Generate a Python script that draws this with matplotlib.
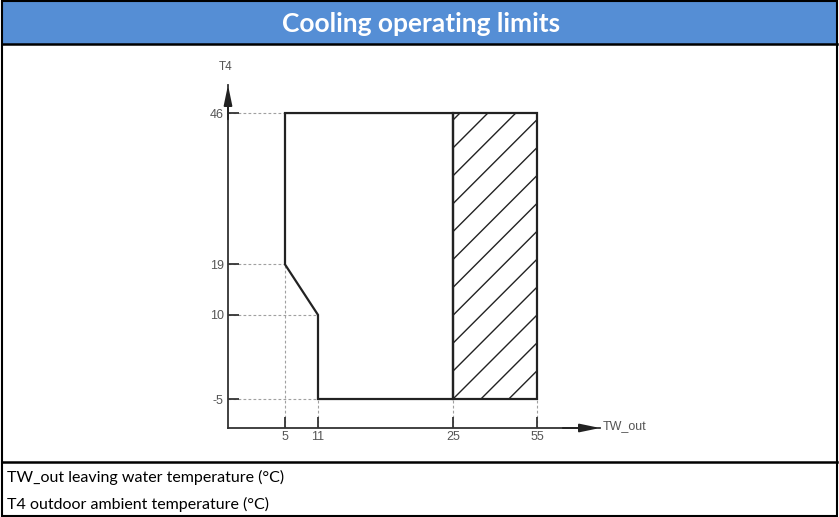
import numpy as np
import matplotlib
matplotlib.use("Agg")
import matplotlib.pyplot as plt
from matplotlib.patches import Rectangle, Polygon
from matplotlib.lines import Line2D
from matplotlib.transforms import IdentityTransform

plt.rcParams["axes.unicode_minus"] = False

# --- data ---
title = "Cooling operating limits"
notes = ["TW_out leaving water temperature (°C)",
         "T4 outdoor ambient temperature (°C)"]
x_label = "TW_out"
y_label = "T4"
x_ticks = [5, 11, 25, 55]
y_ticks = [-5, 10, 19, 46]
# operating envelope (TW_out, T4)
env_tw = [5, 25, 25, 11, 11, 5]
env_t4 = [46, 46, -5, -5, 10, 19]
# hatched zone
hatch_tw = [25, 55]
hatch_t4 = [-5, 46]

# schematic (not to scale) x axis: value -> drawing units
x_anchor_val = [0, 5, 11, 25, 55, 80]
x_anchor_pos = [0, 57, 90, 225, 309, 372]


def fwd(v):
    return np.interp(v, x_anchor_val, x_anchor_pos)


def inv(p):
    return np.interp(p, x_anchor_pos, x_anchor_val)


W, H = 839, 517
fig = plt.figure(figsize=(W / 100, H / 100), dpi=100)


def fx(px):
    return px / W


def fy(py):
    return 1 - py / H


# table frame
fig.add_artist(Rectangle((fx(2), fy(44)), fx(835), 43 / H, transform=fig.transFigure,
                         facecolor="#558ed5", edgecolor="none"))
fig.text(fx(421), fy(24), title, color="white", fontsize=19, fontweight="bold",
         family="Lato", ha="center", va="center")
for y in (44, 462):
    fig.add_artist(Line2D([fx(2), fx(837)], [fy(y), fy(y)], transform=fig.transFigure,
                          color="black", lw=1.8))
fig.add_artist(Rectangle((fx(1.5), fy(516)), fx(835.5), 515 / H, transform=fig.transFigure,
                         facecolor="none", edgecolor="black", lw=1.5))
for i, txt in enumerate(notes):
    fig.text(fx(7), fy(477 + 27 * i), txt, fontsize=11.5, family="Lato",
             ha="left", va="center", color="black")

# chart axes: origin at (228, 428) px, arrow tips at x=600, y=85
ax = fig.add_axes([fx(228), fy(428), fx(600 - 228), (428 - 85) / H])
ax.set_xscale("function", functions=(fwd, inv))
ax.set_xlim(0, 80)
ax.set_ylim(-10.17, 51)
ax.patch.set_alpha(0)
for s in ("top", "right"):
    ax.spines[s].set_visible(False)
for s in ("left", "bottom"):
    ax.spines[s].set_color("#333333")
    ax.spines[s].set_linewidth(1.3)

ax.set_xticks(x_ticks)
ax.set_yticks(y_ticks)
ax.minorticks_off()
ax.tick_params(axis="both", direction="in", length=8, width=1.3, color="#333333",
               labelsize=9, labelcolor="#555555")
ax.tick_params(axis="x", pad=2)
ax.tick_params(axis="y", pad=3)
for lab in ax.get_xticklabels() + ax.get_yticklabels():
    lab.set_family("Liberation Sans")

# arrows
ax.annotate("", xy=(1, 0), xycoords="axes fraction", xytext=(0.9, 0),
            arrowprops=dict(arrowstyle="-|>,head_length=1.2,head_width=0.25",
                            color="#222222", lw=1.3, shrinkA=0, shrinkB=0))
ax.annotate("", xy=(0, 1), xycoords="axes fraction", xytext=(0, 0.9),
            arrowprops=dict(arrowstyle="-|>,head_length=1.2,head_width=0.25",
                            color="#222222", lw=1.3, shrinkA=0, shrinkB=0))
ax.text(1.007, 0.005, x_label, transform=ax.transAxes, fontsize=9, family="Liberation Sans",
        color="#555555", ha="left", va="center")
ax.text(-0.005, 1.035, y_label, transform=ax.transAxes, fontsize=8.5, family="Liberation Sans",
        color="#555555", ha="center", va="bottom")

# guide lines
guide = dict(colors="#a0a0a0", linestyles=(0, (2.5, 2)), linewidth=0.8, zorder=1)
ax.hlines([46, 19], 0, 5, **guide)
ax.hlines([10, -5], 0, 11, **guide)
ax.vlines(5, -10.17, 19, **guide)
ax.vlines([11, 25, 55], -10.17, -5, **guide)

# envelope
ax.add_patch(Polygon(np.column_stack([env_tw, env_t4]), closed=True, facecolor="none",
                     edgecolor="#222222", lw=1.6, zorder=3))
rect = Rectangle((hatch_tw[0], hatch_t4[0]), hatch_tw[1] - hatch_tw[0],
                 hatch_t4[1] - hatch_t4[0], facecolor="none", edgecolor="#222222",
                 lw=1.6, zorder=3)
ax.add_patch(rect)

# hatch lines at 45 deg in pixel space, clipped to the zone
(x0, y0), (x1, y1) = ax.transData.transform([(hatch_tw[0], hatch_t4[0]),
                                              (hatch_tw[1], hatch_t4[1])])
step = 27.9
for k in range(-12, 5):
    c = k * step
    ln = Line2D([x0 + c, x0 + c + 400], [y0, y0 + 400], transform=IdentityTransform(),
                color="#222222", lw=1.0, zorder=2)
    ax.add_line(ln)
    ln.set_clip_path(rect)

fig.savefig("out.png", dpi=100)
